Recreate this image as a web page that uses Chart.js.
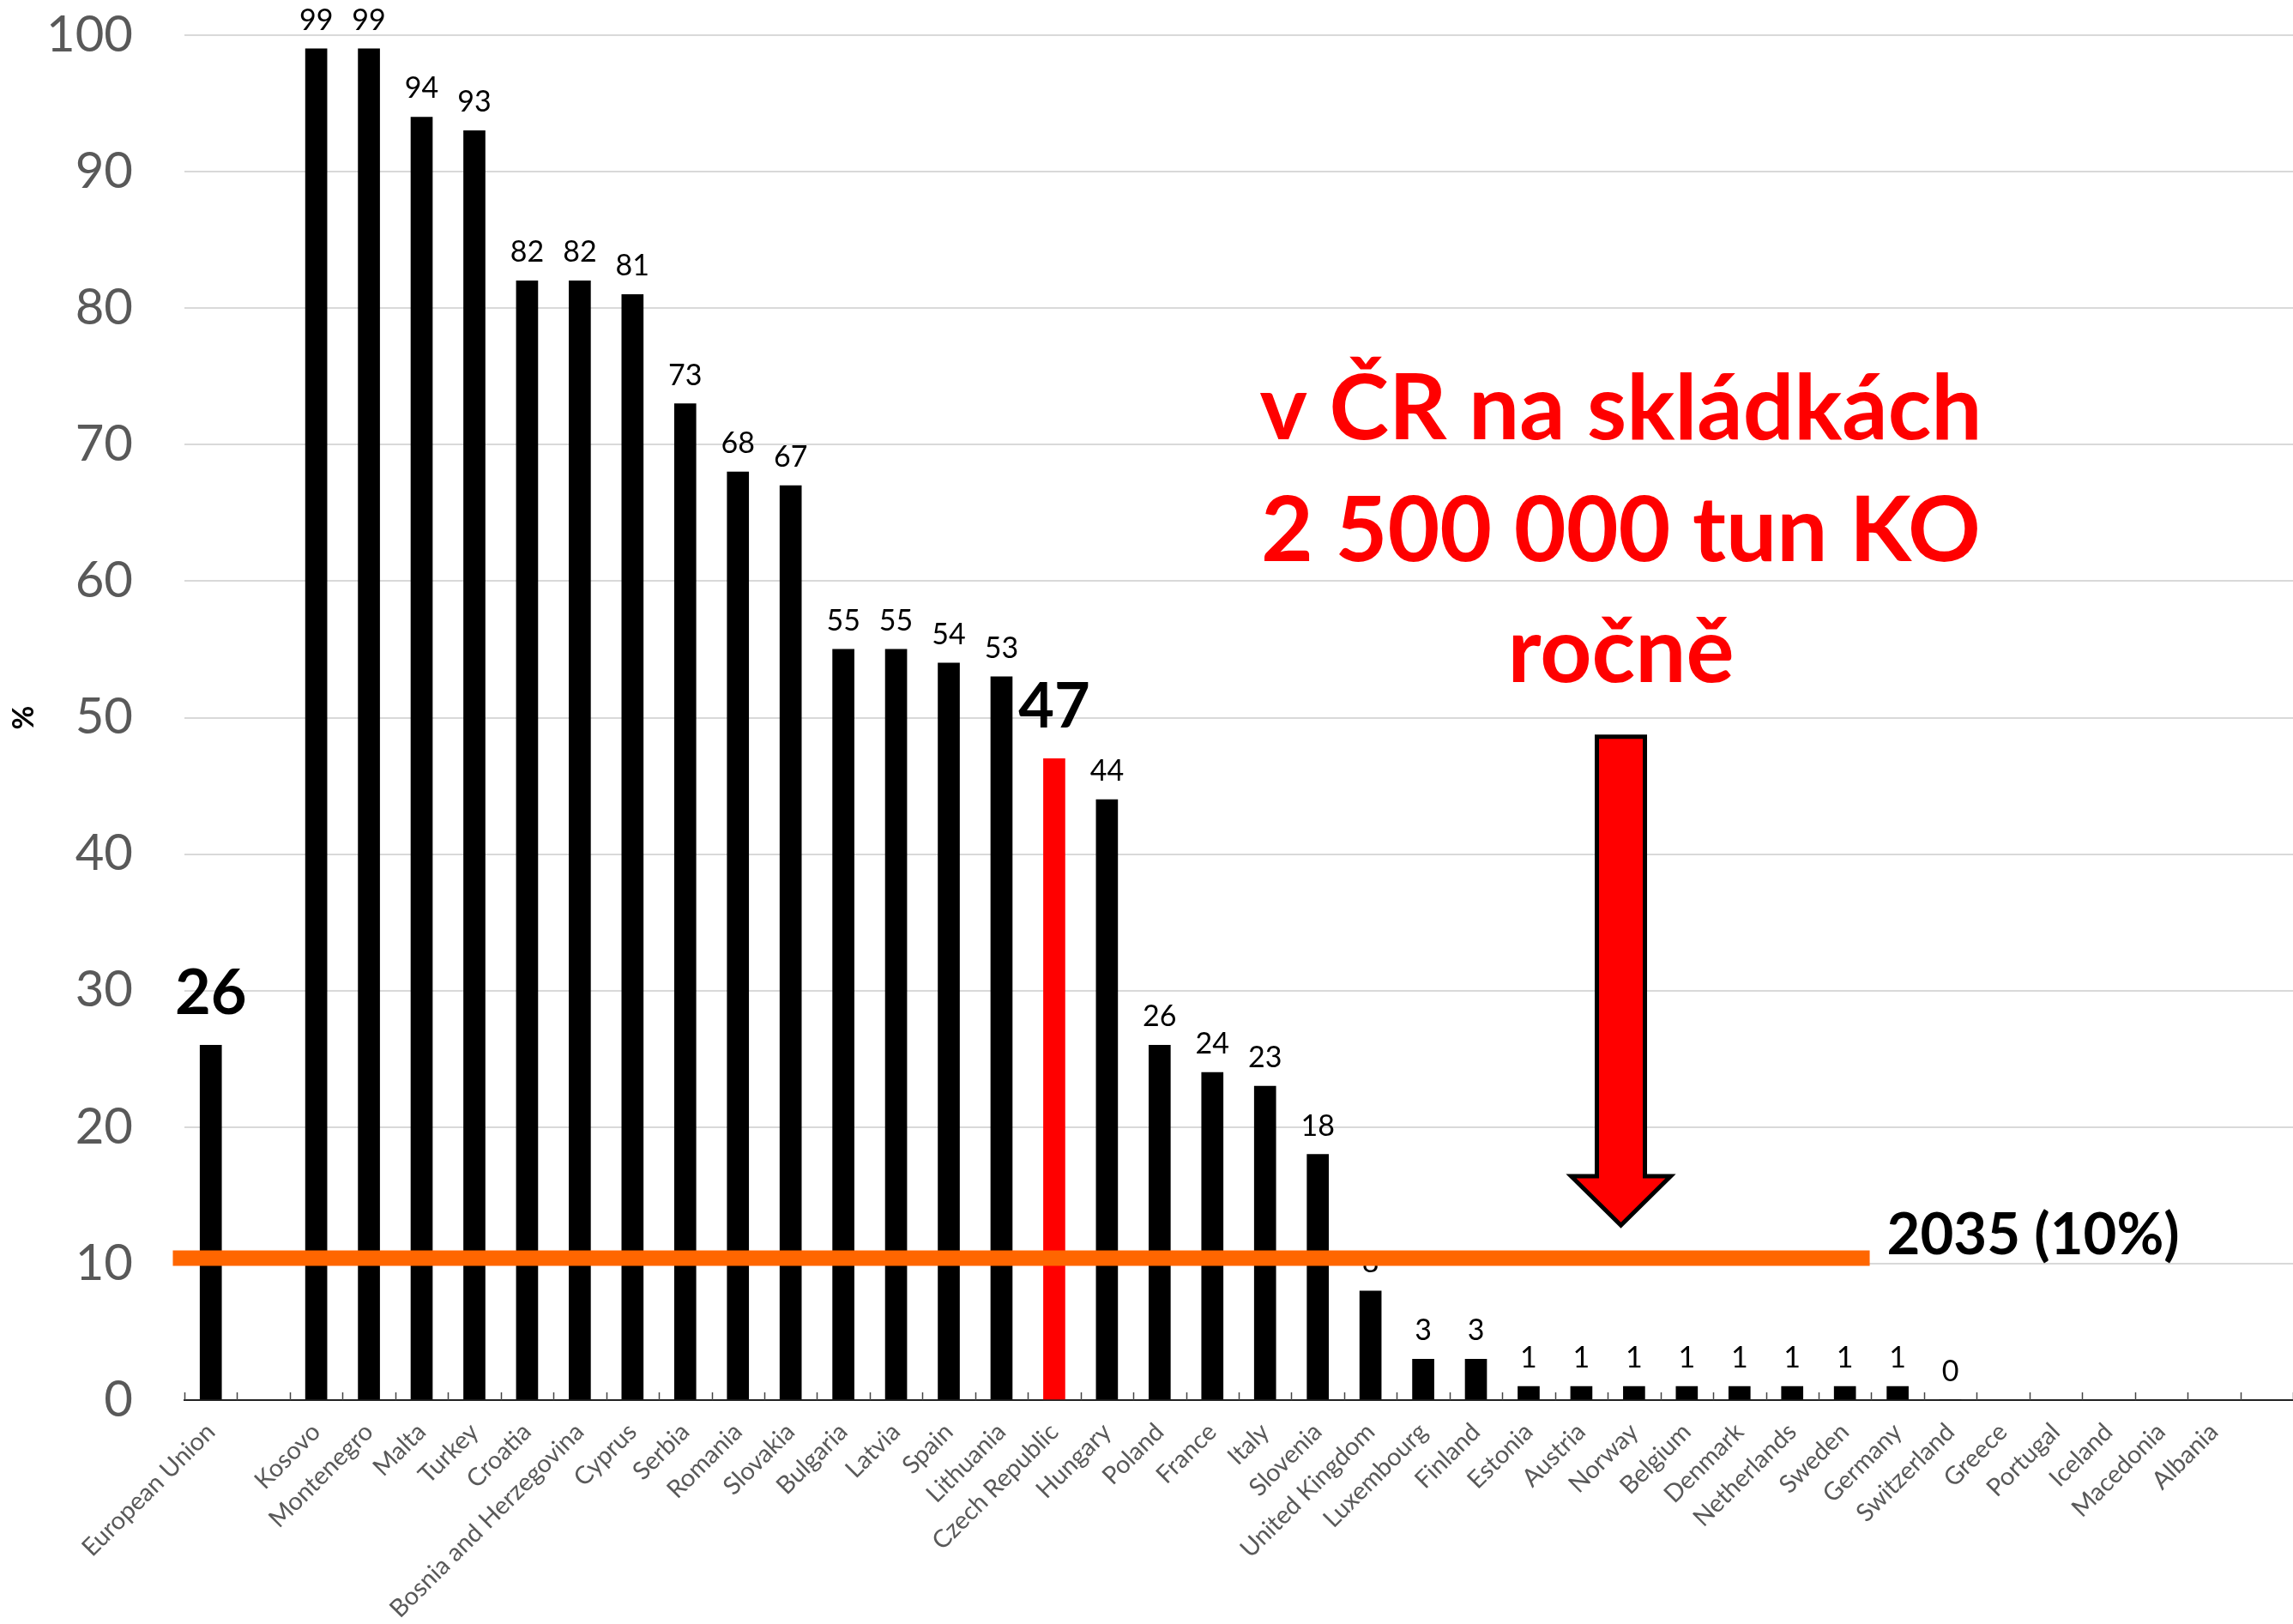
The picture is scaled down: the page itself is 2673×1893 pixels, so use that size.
<!DOCTYPE html>
<html>
<head>
<meta charset="utf-8">
<script src="https://cdn.jsdelivr.net/npm/chart.js@4.4.0/dist/chart.umd.min.js"></script>
<style>
  body { margin: 0; background: #fff; }
  #wrap { width: 2673px; height: 1893px; }
</style>
</head>
<body>
<div id="wrap"><canvas id="landfill" width="2673" height="1893"></canvas></div>
<script>
const categories = ['European Union', '', 'Kosovo', 'Montenegro', 'Malta', 'Turkey', 'Croatia',
  'Bosnia and Herzegovina', 'Cyprus', 'Serbia', 'Romania', 'Slovakia', 'Bulgaria', 'Latvia', 'Spain',
  'Lithuania', 'Czech Republic', 'Hungary', 'Poland', 'France', 'Italy', 'Slovenia', 'United Kingdom',
  'Luxembourg', 'Finland', 'Estonia', 'Austria', 'Norway', 'Belgium', 'Denmark', 'Netherlands',
  'Sweden', 'Germany', 'Switzerland', 'Greece', 'Portugal', 'Iceland', 'Macedonia', 'Albania', ''];
const landfillShare = [26, null, 99, 99, 94, 93, 82, 82, 81, 73, 68, 67, 55, 55, 54, 53, 47, 44, 26,
  24, 23, 18, 8, 3, 3, 1, 1, 1, 1, 1, 1, 1, 1, 0, null, null, null, null, null, null];
const yTicks = [0, 10, 20, 30, 40, 50, 60, 70, 80, 90, 100];
const highlighted = ['European Union', 'Czech Republic'];
const target2035 = 10.4;
const noteLines = ['v ČR na skládkách', '2 500 000 tun KO', 'ročně'];

const FONT = 'Lato, "Open Sans", sans-serif';

const barColors = categories.map(c => c === 'Czech Republic' ? '#FF0000' : '#000000');

// numbers above bars
const valueLabels = {
  id: 'valueLabels',
  afterDatasetsDraw(chart) {
    const ctx = chart.ctx;
    const meta = chart.getDatasetMeta(0);
    ctx.save();
    ctx.textAlign = 'center';
    ctx.textBaseline = 'alphabetic';
    ctx.fillStyle = '#000';
    meta.data.forEach((bar, i) => {
      const v = landfillShare[i];
      if (v === null) return;
      if (highlighted.includes(categories[i])) {
        ctx.font = 'bold 72px ' + FONT;
        ctx.fillText(String(v), bar.x, bar.y - 36);
      } else {
        ctx.font = '34px ' + FONT;
        ctx.fillText(String(v), bar.x, bar.y - 22);
      }
    });
    ctx.restore();
  }
};

// annotations: 2035 target line, note text, arrow, inward axis ticks
const overlay = {
  id: 'overlay',
  afterDraw(chart) {
    const ctx = chart.ctx;
    const x = chart.scales.x, y = chart.scales.y;
    const area = chart.chartArea;
    ctx.save();

    // small ticks between categories
    ctx.strokeStyle = '#444';
    ctx.lineWidth = 1.5;
    for (let i = 0; i <= categories.length; i++) {
      const px = Math.round(x.getPixelForValue(i - 0.5)) + 0.5;
      ctx.beginPath();
      ctx.moveTo(px, area.bottom);
      ctx.lineTo(px, area.bottom - 9);
      ctx.stroke();
    }

    // 2035 target line
    const ty = y.getPixelForValue(target2035);
    const x0 = x.getPixelForValue(-0.72);
    const x1 = x.getPixelForValue(31.47);
    ctx.fillStyle = '#FF6600';
    ctx.fillRect(x0, ty - 9, x1 - x0, 18);

    ctx.fillStyle = '#000';
    ctx.font = 'bold 67px ' + FONT;
    ctx.textAlign = 'left';
    ctx.textBaseline = 'alphabetic';
    ctx.fillText('2035 (10%)', x1 + 20, y.getPixelForValue(10.7));

    // red note
    const cx = x.getPixelForValue(26.75);
    ctx.fillStyle = '#FF0000';
    ctx.font = 'bold 105px ' + FONT;
    ctx.textAlign = 'center';
    [70.4, 61.5, 52.6].forEach((lv, i) => {
      ctx.fillText(noteLines[i], cx, y.getPixelForValue(lv));
    });

    // arrow
    const top = y.getPixelForValue(48.6);
    const neck = y.getPixelForValue(16.4);
    const tip = y.getPixelForValue(12.8);
    ctx.beginPath();
    ctx.moveTo(cx - 28, top);
    ctx.lineTo(cx + 28, top);
    ctx.lineTo(cx + 28, neck);
    ctx.lineTo(cx + 58, neck);
    ctx.lineTo(cx, tip);
    ctx.lineTo(cx - 58, neck);
    ctx.lineTo(cx - 28, neck);
    ctx.closePath();
    ctx.fillStyle = '#FF0000';
    ctx.fill();
    ctx.lineWidth = 5;
    ctx.lineJoin = 'miter';
    ctx.strokeStyle = '#000';
    ctx.stroke();

    ctx.restore();
  }
};

new Chart(document.getElementById('landfill'), {
  type: 'bar',
  data: {
    labels: categories,
    datasets: [{
      data: landfillShare,
      backgroundColor: barColors,
      barThickness: 25
    }]
  },
  options: {
    responsive: false,
    animation: false,
    layout: { padding: { top: 41, right: 0, left: 0, bottom: 0 } },
    plugins: { legend: { display: false }, tooltip: { enabled: false } },
    scales: {
      x: {
        offset: true,
        grid: { display: false, drawTicks: false },
        border: { color: '#222', width: 2 },
        ticks: {
          autoSkip: false,
          maxRotation: 45,
          minRotation: 45,
          padding: 20,
          color: '#595959',
          font: { family: FONT, size: 29 }
        },
        afterFit(scale) {
          scale.height = 261;
          scale.paddingLeft = 0;
          scale.paddingRight = 0;
        }
      },
      y: {
        min: 0,
        max: 100,
        afterBuildTicks(scale) { scale.ticks = yTicks.map(v => ({ value: v })); },
        grid: { color: '#D9D9D9', lineWidth: 2, drawTicks: false },
        border: { display: false },
        ticks: {
          padding: 60,
          color: '#595959',
          font: { family: FONT, size: 58 }
        },
        title: {
          display: true,
          text: '%',
          color: '#000',
          font: { family: FONT, size: 34, weight: 'bold' },
          padding: { top: 8, bottom: 0 }
        },
        afterFit(scale) {
          scale.width = 215;
          scale.paddingTop = 0;
          scale.paddingBottom = 0;
        }
      }
    }
  },
  plugins: [valueLabels, overlay]
});
</script>
</body>
</html>
